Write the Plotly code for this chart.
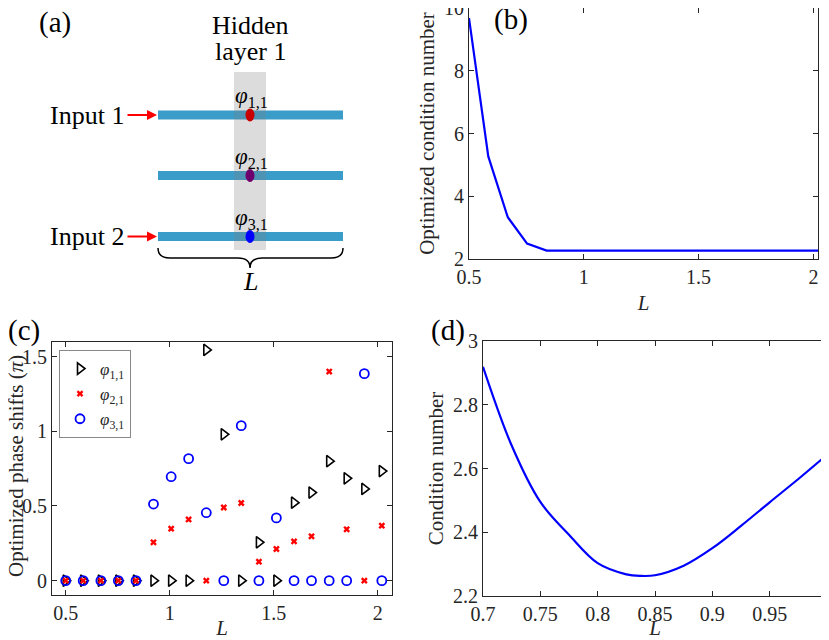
import plotly.graph_objects as go

# ---- data ----
L_opt = [0.5, 0.584, 0.669, 0.753, 0.838, 0.922, 1.007, 1.091, 1.176, 1.26,
         1.344, 1.429, 1.513, 1.598, 1.682, 1.767, 1.851, 1.936, 2.02]
cond_opt = [9.68, 5.27, 3.33, 2.49, 2.27, 2.27, 2.27, 2.27, 2.27, 2.27,
            2.27, 2.27, 2.27, 2.27, 2.27, 2.27, 2.27, 2.27, 2.27]

phi11 = [0, 0, 0, 0, 0, 0, 0, 0, 1.545, 0.98, 0, 0.257, 0, 0.522, 0.59, 0.80, 0.685, 0.614, 0.734]
phi21 = [0, 0, 0, 0, 0, 0.257, 0.348, 0.41, 0, 0.49, 0.52, 0.127, 0.212, 0.263, 0.297, 1.40, 0.344, 0, 0.368]
phi31 = [0, 0, 0, 0, 0, 0.513, 0.696, 0.817, 0.455, 0, 1.038, 0, 0.42, 0, 0, 0, 0, 1.386, 0]

L_scan = [0.70, 0.725, 0.75, 0.775, 0.80, 0.825, 0.8375, 0.85, 0.875,
          0.90, 0.925, 0.95, 0.975, 1.0]
cond_scan = [2.919, 2.672, 2.495, 2.392, 2.303, 2.268, 2.263, 2.265, 2.295,
             2.35, 2.42, 2.494, 2.567, 2.643]

FONT = "Liberation Serif"
AX = "#262626"
FS = 20

# page body keeps an 8px margin, so work in window pixels and shift
W, H, OFF = 821, 632, 8


def px(x):
    return (x - OFF) / W


def py(y):
    return min(1.0, 1 - (y - OFF) / H)


fig = go.Figure()

# (b)
fig.add_trace(go.Scatter(x=L_opt, y=cond_opt, mode="lines",
                         line=dict(color="#0000ff", width=2.2),
                         xaxis="x", yaxis="y", showlegend=False))

# (c)
fig.add_trace(go.Scatter(x=L_opt, y=phi11, mode="markers", name="<i>φ</i><sub>1,1</sub>",
                         marker=dict(symbol="triangle-right-open", size=10, color="black",
                                     line=dict(width=1.6)),
                         xaxis="x2", yaxis="y2"))
fig.add_trace(go.Scatter(x=L_opt, y=phi21, mode="markers", name="<i>φ</i><sub>2,1</sub>",
                         marker=dict(symbol="x", size=6, color="#ff0000", line=dict(width=0)),
                         xaxis="x2", yaxis="y2"))
fig.add_trace(go.Scatter(x=L_opt, y=phi31, mode="markers", name="<i>φ</i><sub>3,1</sub>",
                         marker=dict(symbol="circle-open", size=9, color="#0000ff",
                                     line=dict(width=1.8)),
                         xaxis="x2", yaxis="y2"))

# (d)
fig.add_trace(go.Scatter(x=L_scan, y=cond_scan, mode="lines", line_shape="spline",
                         line=dict(color="#0000ff", width=2.2, smoothing=1.0),
                         xaxis="x3", yaxis="y3", showlegend=False))


def axis(domain, rng, dtick, anchor, title=None, standoff=6):
    d = dict(domain=domain, range=rng, dtick=dtick, anchor=anchor, automargin=False,
             showgrid=False, zeroline=False, showline=True, mirror="ticks",
             linecolor=AX, linewidth=1, ticks="inside", ticklen=5, tickcolor=AX,
             ticklabeloverflow="allow",
             tickfont=dict(family=FONT, size=FS, color=AX))
    if title:
        d["title"] = dict(text=title, font=dict(family=FONT, size=21, color=AX),
                          standoff=standoff)
    return d


fig.update_layout(
    template="none",
    width=W, height=H,
    margin=dict(l=0, r=0, t=0, b=0),
    paper_bgcolor="white", plot_bgcolor="white",
    font=dict(family=FONT, color=AX),
    xaxis=axis([px(469), px(818)], [0.5, 2.02], 0.5, "y", "<i>L</i>", 8),
    yaxis=axis([py(259), py(6)], [2, 10], 2, "x", "Optimized condition number", 3),
    xaxis2=axis([px(52), px(392)], [0.434, 2.069], 0.5, "y2", "<i>L</i>", 7),
    yaxis2=axis([py(595), py(342)], [-0.096, 1.598], 0.5, "x2"),
    xaxis3=axis([px(483), px(827)], [0.7, 1.0], 0.05, "y3", "<i>L</i>", 11),
    yaxis3=axis([py(596), py(341)], [2.2, 3.0], 0.2, "x3", "Condition number", 3),
    xaxis4=dict(domain=[0, 0.5], range=[OFF, OFF + 0.5 * W], visible=False,
                anchor="y4", automargin=False),
    yaxis4=dict(domain=[0.55, 1], range=[OFF + 0.45 * H, OFF], visible=False,
                anchor="x4", automargin=False),
    legend=dict(x=px(59), y=py(350), xanchor="left", yanchor="top",
                bgcolor="white", bordercolor="#888", borderwidth=1,
                font=dict(family=FONT, size=17, color=AX),
                itemwidth=30, tracegroupgap=0),
)

# y title of (c), pushed close to the left edge like the original
fig.add_annotation(text="Optimized phase shifts (<i>π</i>)", textangle=-90,
                   x=px(16), y=py(466), xref="paper", yref="paper",
                   xanchor="center", yanchor="middle", showarrow=False,
                   font=dict(family=FONT, size=21, color=AX))

# panel labels
for txt, x, y in [("(b)", 511, 20), ("(c)", 24, 330), ("(d)", 448, 330)]:
    fig.add_annotation(text=txt, x=px(x), y=py(y), xref="paper", yref="paper",
                       xanchor="center", yanchor="middle", showarrow=False,
                       font=dict(family=FONT, size=29, color="black"))

# ---- (a) schematic (drawn in window pixel coordinates) ----
guide = "rgb(58,156,200)"
rows = [115, 175.5, 236.5]
dots = ["rgb(200,0,0)", "rgb(110,0,110)", "rgb(0,0,255)"]
phis = ["<i>φ</i><sub>1,1</sub>", "<i>φ</i><sub>2,1</sub>", "<i>φ</i><sub>3,1</sub>"]

for yy in rows:
    fig.add_shape(type="rect", xref="x4", yref="y4", x0=158, x1=343, y0=yy - 4.5, y1=yy + 4.5,
                  fillcolor=guide, line_width=0)
fig.add_shape(type="rect", xref="x4", yref="y4", x0=234, x1=266, y0=72, y1=250,
              fillcolor="rgba(128,128,128,0.28)", line_width=0)
for yy, c, p in zip(rows, dots, phis):
    fig.add_shape(type="circle", xref="x4", yref="y4", x0=245.5, x1=254.5, y0=yy - 6.5, y1=yy + 6.5,
                  fillcolor=c, line_width=0)
    fig.add_annotation(text=p, x=251, y=yy - 18, xref="x4", yref="y4", showarrow=False,
                       font=dict(family=FONT, size=23, color="black"))

fig.add_shape(type="path", xref="x4", yref="y4",
              path="M 158,248 Q 158,258 170,258 L 238,258 Q 250,258 250,268 "
                   "Q 250,258 262,258 L 331,258 Q 343,258 343,248",
              line=dict(color="black", width=1.5))

for txt, yy in [("Input 1", rows[0]), ("Input 2", rows[2])]:
    fig.add_annotation(text=txt, x=126, y=yy, xref="x4", yref="y4", xanchor="right",
                       showarrow=False, font=dict(family=FONT, size=26, color="black"))
    fig.add_annotation(x=157, y=yy, ax=126, ay=yy, xref="x4", yref="y4", axref="x4", ayref="y4",
                       text="", showarrow=True, arrowhead=2, arrowsize=1, arrowwidth=2,
                       arrowcolor="red")

fig.add_annotation(text="Hidden", x=250, y=25, xref="x4", yref="y4", showarrow=False,
                   font=dict(family=FONT, size=26, color="black"))
fig.add_annotation(text="layer 1", x=250, y=51, xref="x4", yref="y4", showarrow=False,
                   font=dict(family=FONT, size=26, color="black"))
fig.add_annotation(text="<i>L</i>", x=250, y=281, xref="x4", yref="y4", showarrow=False,
                   font=dict(family=FONT, size=26, color="black"))
fig.add_annotation(text="(a)", x=55, y=22, xref="x4", yref="y4", showarrow=False,
                   font=dict(family=FONT, size=29, color="black"))

fig.write_html("out.html")
